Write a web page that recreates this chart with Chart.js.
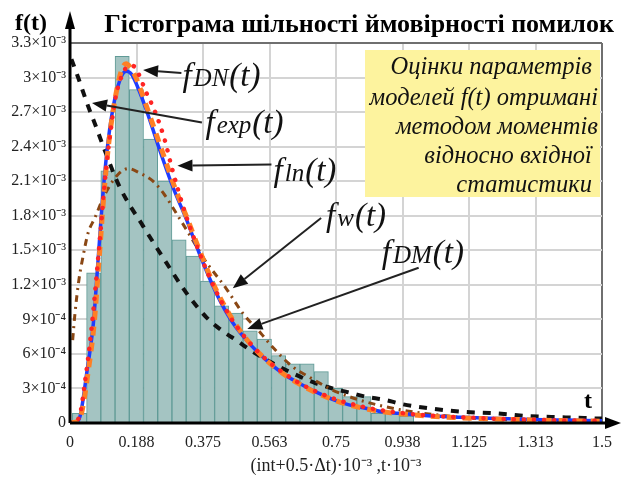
<!DOCTYPE html>
<html lang="uk">
<head>
<meta charset="UTF-8">
<title>Гістограма шільності ймовірності помилок</title>
<script src="https://cdn.jsdelivr.net/npm/chart.js"></script>
<style>
  html, body { margin: 0; padding: 0; background: #fff; }
  #wrap { width: 622px; height: 480px; }
</style>
</head>
<body>
<div id="wrap"><canvas id="histChart"></canvas></div>
<script>
  // all values in units of 10^-3 (t and f(t))
  const xTickLabels = ['0', '0.188', '0.375', '0.563', '0.75', '0.938', '1.125', '1.313', '1.5'];
  const yTickLabels = ['0', '3×10⁻⁴', '6×10⁻⁴', '9×10⁻⁴', '1.2×10⁻³', '1.5×10⁻³', '1.8×10⁻³',
                       '2.1×10⁻³', '2.4×10⁻³', '2.7×10⁻³', '3×10⁻³', '3.3×10⁻³'];

  // histogram: bin centres (int + 0.5·Δt) and heights
  const binCenters = [0.0268, 0.0669, 0.1070, 0.1471, 0.1872, 0.2273, 0.2674, 0.3075, 0.3476, 0.3877,
                      0.4278, 0.4679, 0.5080, 0.5481, 0.5882, 0.6283, 0.6684, 0.7085, 0.7486, 0.7887,
                      0.8288, 0.8689, 0.9090, 0.9491];
  const binHeights = [0.085, 1.305, 2.19, 3.185, 2.895, 2.465, 2.10, 1.59, 1.45, 1.232,
                      1.017, 0.954, 0.80, 0.728, 0.585, 0.513, 0.513, 0.446, 0.30, 0.229,
                      0.229, 0.084, 0.084, 0.06];

  // fDM(t) - blue solid
  const tDM = [0, 0.02, 0.03, 0.047, 0.066, 0.08, 0.094, 0.108, 0.126, 0.145, 0.159, 0.173, 0.197, 0.225,
               0.253, 0.29, 0.328, 0.365, 0.412, 0.459, 0.506, 0.552, 0.6, 0.646, 0.693, 0.74, 0.787,
               0.833, 0.88, 0.927, 1.0, 1.1, 1.2, 1.3, 1.4, 1.5];
  const fDM = [0, 0.01, 0.08, 0.43, 0.87, 1.45, 2.03, 2.46, 2.81, 3.01, 3.055, 3.03, 2.87, 2.63,
               2.37, 2.05, 1.77, 1.47, 1.13, 0.87, 0.69, 0.55, 0.43, 0.345, 0.27, 0.206, 0.157,
               0.128, 0.098, 0.084, 0.065, 0.05, 0.04, 0.03, 0.025, 0.02];

  // fln(t) - orange dashed
  const tLN = [0, 0.025, 0.035, 0.05, 0.068, 0.082, 0.096, 0.11, 0.128, 0.145, 0.158, 0.172, 0.19, 0.21,
               0.235, 0.26, 0.295, 0.33, 0.365, 0.41, 0.46, 0.505, 0.552, 0.6, 0.646, 0.693, 0.74,
               0.79, 0.84, 0.9, 0.95, 1.0, 1.1, 1.2, 1.3, 1.4, 1.5];
  const fLN = [0, 0.02, 0.12, 0.42, 0.86, 1.42, 2.0, 2.45, 2.83, 3.06, 3.12, 3.08, 2.97, 2.8,
               2.58, 2.36, 2.05, 1.78, 1.5, 1.17, 0.89, 0.7, 0.55, 0.43, 0.34, 0.265, 0.205,
               0.155, 0.12, 0.09, 0.075, 0.062, 0.045, 0.035, 0.027, 0.02, 0.016];

  // fDN(t) - red dotted
  const tDN = [0, 0.02, 0.03, 0.042, 0.06, 0.084, 0.1, 0.115, 0.13, 0.15, 0.165, 0.178, 0.192, 0.215,
               0.239, 0.267, 0.286, 0.323, 0.36, 0.4, 0.45, 0.5, 0.55, 0.6, 0.65, 0.7, 0.75, 0.8,
               0.85, 0.9, 1.0, 1.1, 1.2, 1.3, 1.4, 1.5];
  const fDN = [0, 0.02, 0.1, 0.35, 0.8, 1.59, 2.15, 2.55, 2.85, 3.04, 3.1, 3.1, 3.04, 2.87,
               2.71, 2.46, 2.23, 1.84, 1.52, 1.22, 0.93, 0.72, 0.56, 0.44, 0.34, 0.265, 0.205, 0.16,
               0.125, 0.1, 0.068, 0.05, 0.037, 0.028, 0.022, 0.018];

  // fexp(t) - black dashed
  const tEXP = [0.004, 0.023, 0.05, 0.075, 0.094, 0.14, 0.206, 0.272, 0.328, 0.384, 0.421, 0.473, 0.515,
                0.571, 0.618, 0.693, 0.74, 0.796, 0.833, 0.89, 0.927, 1.011, 1.105, 1.199, 1.292,
                1.386, 1.48, 1.5];
  const fEXP = [3.16, 3.0, 2.76, 2.56, 2.4, 2.05, 1.71, 1.39, 1.13, 0.92, 0.82, 0.71, 0.62,
                0.52, 0.446, 0.345, 0.30, 0.258, 0.229, 0.2, 0.17, 0.128, 0.098, 0.084, 0.06,
                0.05, 0.04, 0.038];

  // fw(t) - brown dash-dot
  const tW = [0.0075, 0.014, 0.025, 0.037, 0.051, 0.07, 0.09, 0.11, 0.136, 0.164, 0.197,
              0.234, 0.267, 0.3, 0.34, 0.379, 0.44, 0.487, 0.538, 0.571, 0.627, 0.674, 0.74, 0.787,
              0.85, 0.95, 1.05, 1.15, 1.3, 1.5];
  const fW = [0.72, 0.95, 1.24, 1.45, 1.65, 1.78, 1.93, 2.05, 2.16, 2.21, 2.17,
              2.1, 1.98, 1.82, 1.62, 1.42, 1.17, 0.954, 0.78, 0.66, 0.49, 0.40, 0.287, 0.229,
              0.17, 0.105, 0.065, 0.04, 0.02, 0.008];

  // arrow labels: text anchor (left, baseline), arrow tail and tip, in data units
  const notes = [
    { sub: 'DN',  at: [0.317, 2.93], tail: [0.314, 3.04], tip: [0.206, 3.065] },
    { sub: 'exp', at: [0.382, 2.52], tail: [0.372, 2.61], tip: [0.062, 2.78] },
    { sub: 'ln',  at: [0.574, 2.10], tail: [0.568, 2.245], tip: [0.303, 2.235] },
    { sub: 'w',   at: [0.722, 1.71], tail: [0.708, 1.78], tip: [0.459, 1.17] },
    { sub: 'DM',  at: [0.879, 1.39], tail: [0.983, 1.348], tip: [0.50, 0.817] }
  ];

  const boxLines = ['Оцінки параметрів ', 'моделей f(t) отримані', 'методом моментів',
                    'відносно вхідної ', 'статистики '];

  const serif = "'Liberation Serif', 'Times New Roman', serif";
  const toPts = (xs, ys) => xs.map((x, i) => ({ x: x, y: ys[i] }));

  function arrow(ctx, x1, y1, x2, y2, len, half) {
    const a = Math.atan2(y2 - y1, x2 - x1);
    const bx = x2 - len * Math.cos(a), by = y2 - len * Math.sin(a);
    ctx.beginPath();
    ctx.moveTo(x1, y1);
    ctx.lineTo(bx, by);
    ctx.stroke();
    ctx.beginPath();
    ctx.moveTo(x2, y2);
    ctx.lineTo(bx + half * Math.sin(a), by - half * Math.cos(a));
    ctx.lineTo(bx - half * Math.sin(a), by + half * Math.cos(a));
    ctx.closePath();
    ctx.fill();
  }

  const decor = {
    id: 'decor',
    afterDatasetsDraw(chart) {
      const ctx = chart.ctx, area = chart.chartArea;
      const xs = chart.scales.x, ys = chart.scales.y;
      ctx.save();
      ctx.fillStyle = '#000';
      ctx.strokeStyle = '#000';

      // axes with arrow heads
      ctx.lineWidth = 3;
      arrow(ctx, area.left, area.bottom, area.left, 11, 18, 5);
      arrow(ctx, area.left, area.bottom, 621, area.bottom, 16, 6);

      // titles
      ctx.textBaseline = 'alphabetic';
      ctx.textAlign = 'center';
      ctx.font = 'bold 26px ' + serif;
      ctx.fillText('Гістограма шільності ймовірності помилок', 359, 32);
      ctx.textAlign = 'left';
      ctx.font = 'bold 24px ' + serif;
      ctx.fillText('f(t)', 15, 30);
      ctx.fillText('t', 584, 408);

      // yellow box
      ctx.fillStyle = '#fdf39e';
      ctx.fillRect(365, 50, 235, 147);
      ctx.fillStyle = '#111';
      ctx.textAlign = 'right';
      ctx.font = 'italic 24.5px ' + serif;
      const base = [74, 105, 134, 163, 192];
      boxLines.forEach((s, i) => ctx.fillText(s, 598, base[i]));

      // arrows + labels
      ctx.strokeStyle = '#222';
      ctx.fillStyle = '#111';
      ctx.lineWidth = 2;
      ctx.textAlign = 'left';
      notes.forEach(n => {
        arrow(ctx, xs.getPixelForValue(n.tail[0]), ys.getPixelForValue(n.tail[1]),
              xs.getPixelForValue(n.tip[0]), ys.getPixelForValue(n.tip[1]), 15, 6);
        let x = xs.getPixelForValue(n.at[0]);
        const y = ys.getPixelForValue(n.at[1]);
        ctx.font = 'italic 33px ' + serif;
        ctx.fillText('f', x, y);
        x += ctx.measureText('f').width + 2;
        ctx.font = 'italic 25px ' + serif;
        ctx.fillText(n.sub, x, y);
        x += ctx.measureText(n.sub).width + 1;
        ctx.font = 'italic 33px ' + serif;
        ctx.fillText('(t)', x, y);
      });
      ctx.restore();
    }
  };

  const line = (label, xs, ys, color, width, dash, order, cap) => ({
    type: 'line', label: label, data: toPts(xs, ys),
    borderColor: color, borderWidth: width, borderDash: dash,
    borderCapStyle: cap || 'butt', pointRadius: 0, fill: false,
    cubicInterpolationMode: 'monotone', order: order
  });

  new Chart(document.getElementById('histChart'), {
    type: 'line',
    data: {
      datasets: [
        line('fDN(t)', tDN, fDN, '#ff2424', 4.5, [0.1, 10], 1, 'round'),
        line('fln(t)', tLN, fLN, '#ff7f24', 5, [9, 7], 2),
        line('fDM(t)', tDM, fDM, '#1e3cff', 3.5, [], 3),
        line('fw(t)', tW, fW, '#8a4714', 3, [7, 5, 2, 5], 4),
        line('fexp(t)', tEXP, fEXP, '#111111', 4, [8, 8], 5),
        {
          type: 'bar', label: 'histogram', data: toPts(binCenters, binHeights),
          backgroundColor: '#a4c4c2', borderColor: '#5f9a96', borderWidth: 1,
          categoryPercentage: 1, barPercentage: 1, order: 6
        }
      ]
    },
    options: {
      responsive: true,
      maintainAspectRatio: false,
      animation: false,
      layout: { padding: { top: 43, right: 18, left: 0, bottom: 0 } },
      plugins: { legend: { display: false }, tooltip: { enabled: false } },
      scales: {
        x: {
          type: 'linear', min: 0, max: 1.5, offset: false,
          grid: {
            offset: false, drawTicks: false, lineWidth: 2,
            color: c => (c.tick && c.tick.value >= 1.5) ? '#6f6f6f' : '#d4d4d4'
          },
          border: { display: false },
          ticks: {
            stepSize: 0.1875, autoSkip: false, maxRotation: 0, padding: 10,
            color: '#222', font: { family: serif, size: 16 },
            callback: (v, i) => xTickLabels[i]
          },
          title: {
            display: true, text: '(int+0.5·Δt)·10⁻³ ,t·10⁻³', color: '#222',
            font: { family: serif, size: 18 }, padding: { top: 0, bottom: 3 }
          },
          afterFit: s => { s.height = 57; }
        },
        y: {
          type: 'linear', min: 0, max: 3.3,
          grid: {
            drawTicks: false, lineWidth: 2,
            color: c => (c.tick && c.tick.value >= 3.29) ? '#6f6f6f' : '#d4d4d4'
          },
          border: { display: false },
          ticks: {
            stepSize: 0.3, padding: 4, color: '#222', font: { family: serif, size: 16 },
            callback: (v, i) => yTickLabels[i]
          },
          afterFit: s => { s.width = 70; }
        }
      }
    },
    plugins: [decor]
  });
</script>
</body>
</html>
